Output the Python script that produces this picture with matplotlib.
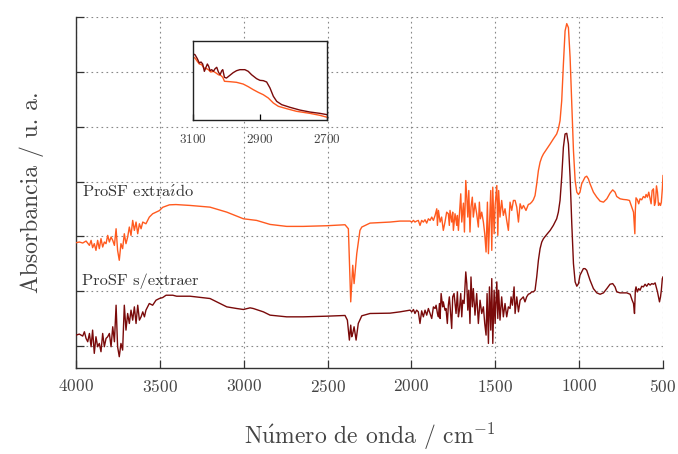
import matplotlib
matplotlib.use("Agg")
import matplotlib.pyplot as plt

# numero de onda (cm-1) y absorbancia desplazada
wn_ext = [4000, 3980, 3960, 3940, 3920, 3910, 3901, 3891, 3881, 3871, 3861, 3851, 3841, 3831,
          3821, 3811, 3801, 3791, 3781, 3771, 3761, 3752, 3742, 3732, 3722, 3712, 3702, 3692,
          3682, 3672, 3662, 3652, 3642, 3632, 3622, 3612, 3602, 3583, 3563, 3543, 3523, 3503,
          3483, 3443, 3404, 3344, 3320, 3201, 3101, 3002, 2923, 2843, 2744, 2645, 2505, 2396,
          2376, 2362, 2350, 2342, 2326, 2307, 2296, 2247, 2128, 2068, 2008, 1998, 1988, 1979,
          1969, 1959, 1949, 1939, 1929, 1919, 1909, 1899, 1889, 1879, 1869, 1859, 1849, 1845,
          1839, 1829, 1820, 1810, 1800, 1790, 1780, 1774, 1770, 1760, 1754, 1750, 1740, 1730,
          1726, 1720, 1714, 1706, 1700, 1690, 1684, 1676, 1670, 1664, 1658, 1651, 1645, 1637,
          1631, 1621, 1611, 1601, 1595, 1589, 1581, 1571, 1563, 1555, 1547, 1541, 1535, 1527,
          1521, 1515, 1507, 1501, 1491, 1485, 1480, 1472, 1462, 1452, 1442, 1432, 1422, 1412,
          1402, 1392, 1382, 1372, 1362, 1352, 1342, 1332, 1317, 1303, 1293, 1283, 1273, 1263,
          1253, 1243, 1233, 1223, 1213, 1193, 1173, 1154, 1134, 1124, 1114, 1104, 1094, 1084,
          1074, 1064, 1054, 1044, 1034, 1024, 1014, 1004, 995, 985, 965, 955, 945, 935, 915,
          895, 875, 855, 835, 816, 800, 786, 776, 756, 736, 716, 700, 686, 676, 668, 665, 661,
          653, 645, 637, 627, 617, 607, 601, 593, 585, 577, 571, 565, 557, 551, 545, 539, 533,
          527, 521, 515, 510, 504, 500]
abs_ext = [1.885, 1.897, 1.879, 1.915, 1.836, 1.927, 1.794, 1.867, 1.745, 1.927, 1.776, 1.958,
           1.806, 1.897, 1.867, 2.018, 1.897, 1.988, 1.927, 1.836, 2.139, 1.745, 1.564, 1.867,
           1.776, 2.048, 1.867, 1.988, 2.17, 2.018, 2.291, 2.109, 2.261, 2.048, 2.23, 2.139,
           2.261, 2.23, 2.351, 2.412, 2.442, 2.47, 2.53, 2.575, 2.58, 2.57, 2.564, 2.533, 2.442,
           2.321, 2.291, 2.218, 2.182, 2.182, 2.194, 2.212, 2.139, 0.806, 1.473, 1.139, 1.685,
           2.109, 2.17, 2.242, 2.261, 2.279, 2.279, 2.261, 2.291, 2.261, 2.279, 2.291, 2.2,
           2.291, 2.261, 2.303, 2.242, 2.321, 2.291, 2.352, 2.291, 2.382, 2.503, 2.2, 2.473,
           2.261, 2.352, 2.109, 2.261, 2.442, 2.412, 2.2, 2.473, 2.261, 2.442, 2.109, 2.412,
           2.2, 2.382, 2.109, 2.382, 2.776, 2.261, 2.606, 2.079, 3.018, 2.715, 2.352, 2.836,
           2.079, 2.533, 2.715, 2.352, 2.606, 2.412, 2.17, 2.624, 2.321, 2.442, 2.261, 2.048,
           1.715, 2.624, 1.685, 2.17, 2.836, 1.745, 2.897, 2.048, 2.564, 2.927, 2.018, 2.836,
           2.352, 2.655, 2.382, 2.503, 2.291, 2.109, 2.624, 2.473, 2.655, 2.655, 2.533, 2.261,
           2.594, 2.503, 2.564, 2.473, 2.582, 2.594, 2.624, 2.667, 2.745, 2.958, 3.2, 3.352,
           3.442, 3.503, 3.594, 3.685, 3.776, 3.867, 3.958, 4.109, 4.473, 5.139, 5.745, 5.879,
           5.806, 5.261, 4.412, 3.564, 3.018, 2.806, 2.764, 2.806, 2.958, 3.079, 3.097, 3.048,
           2.958, 2.806, 2.715, 2.642, 2.624, 2.685, 2.788, 2.848, 2.806, 2.727, 2.685, 2.673,
           2.667, 2.655, 2.533, 2.442, 2.048, 2.473, 2.703, 2.667, 2.594, 2.685, 2.667, 2.727,
           2.703, 2.764, 2.715, 2.806, 2.685, 2.594, 2.836, 2.867, 2.564, 2.624, 2.921, 2.806,
           2.564, 2.606, 2.564, 2.624, 2.867, 3.109]

wn_sin = [4000, 3980, 3960, 3950, 3940, 3930, 3920, 3910, 3901, 3891, 3881, 3871, 3861, 3851,
          3841, 3831, 3821, 3811, 3801, 3791, 3781, 3771, 3761, 3752, 3742, 3732, 3722, 3712,
          3702, 3692, 3682, 3672, 3662, 3652, 3642, 3632, 3622, 3612, 3602, 3592, 3583, 3573,
          3563, 3543, 3523, 3503, 3483, 3463, 3423, 3400, 3320, 3201, 3101, 3042, 3002, 2962,
          2943, 2883, 2843, 2744, 2645, 2505, 2396, 2382, 2370, 2362, 2356, 2350, 2342, 2330,
          2317, 2296, 2247, 2128, 2068, 2008, 1998, 1988, 1979, 1969, 1959, 1949, 1939, 1929,
          1919, 1909, 1899, 1889, 1879, 1869, 1859, 1853, 1845, 1839, 1833, 1829, 1823, 1814,
          1810, 1800, 1794, 1786, 1780, 1774, 1770, 1760, 1754, 1746, 1740, 1734, 1726, 1720,
          1714, 1706, 1700, 1694, 1686, 1676, 1670, 1664, 1658, 1651, 1645, 1637, 1631, 1621,
          1611, 1601, 1591, 1581, 1571, 1563, 1555, 1549, 1541, 1535, 1527, 1521, 1515, 1507,
          1501, 1491, 1485, 1480, 1472, 1462, 1452, 1442, 1432, 1422, 1412, 1406, 1398, 1388,
          1382, 1372, 1362, 1352, 1342, 1333, 1323, 1313, 1303, 1293, 1283, 1273, 1263, 1253,
          1243, 1233, 1223, 1213, 1193, 1173, 1154, 1134, 1124, 1114, 1104, 1094, 1084, 1074,
          1064, 1054, 1044, 1034, 1024, 1014, 1004, 995, 975, 965, 955, 935, 915, 895, 875,
          855, 835, 816, 800, 786, 776, 756, 716, 696, 684, 676, 670, 665, 661, 653, 645, 637,
          627, 617, 607, 597, 587, 577, 567, 557, 547, 541, 533, 527, 521, 515, 510, 504, 500]
abs_sin = [0.2, 0.218, 0.182, 0.261, 0.139, 0.079, 0.23, -0.012, 0.291, -0.133, 0.17, -0.012,
           0.048, -0.103, 0.23, -0.012, 0.139, 0.17, 0.23, -0.012, 0.352, 0.079, 0.745, -0.012,
           -0.194, 0.048, -0.073, 0.745, 0.291, 0.594, 0.412, 0.655, 0.473, 0.715, 0.412, 0.745,
           0.473, 0.533, 0.624, 0.533, 0.655, 0.715, 0.776, 0.745, 0.836, 0.867, 0.885, 0.927,
           0.927, 0.909, 0.909, 0.867, 0.715, 0.685, 0.667, 0.697, 0.685, 0.624, 0.564, 0.533,
           0.533, 0.545, 0.558, 0.473, 0.109, 0.382, 0.17, 0.23, 0.352, 0.109, 0.412, 0.552,
           0.594, 0.6, 0.624, 0.655, 0.624, 0.667, 0.594, 0.655, 0.624, 0.412, 0.642, 0.533,
           0.655, 0.564, 0.685, 0.594, 0.503, 0.715, 0.685, 0.745, 0.594, 0.533, 0.776, 0.503,
           0.958, 0.715, 0.806, 0.655, 0.685, 0.412, 0.745, 0.897, 0.745, 0.321, 0.897, 0.958,
           0.776, 0.594, 0.988, 0.533, 0.655, 0.958, 0.533, 0.836, 0.776, 1.352, 1.139, 0.655,
           1.018, 0.412, 1.26, 0.715, 1.048, 0.564, 0.958, 0.412, 0.836, 0.594, 0.715, 0.412,
           0.2, 0.958, 0.048, 1.079, 0.291, 1.23, 0.048, 1.018, 0.412, 1.17, 0.503, 1.018,
           0.473, 0.897, 0.533, 0.776, 0.533, 0.715, 0.685, 0.897, 0.745, 1.079, 0.594, 0.897,
           0.624, 0.836, 0.867, 0.897, 0.806, 0.897, 0.945, 0.958, 0.988, 0.988, 1.018, 1.261,
           1.564, 1.776, 1.897, 1.958, 2.036, 2.109, 2.2, 2.321, 2.442, 2.655, 3.079, 3.624,
           3.867, 3.879, 3.685, 3.079, 2.23, 1.503, 1.17, 1.091, 1.139, 1.291, 1.412, 1.412,
           1.382, 1.2, 1.048, 0.97, 0.945, 0.97, 1.048, 1.127, 1.139, 1.079, 0.988, 0.97, 0.97,
           0.945, 0.836, 0.776, 0.594, 1.018, 1.079, 0.988, 1.048, 1.018, 1.091, 1.079, 1.127,
           1.091, 1.139, 1.112, 1.139, 1.127, 1.152, 1.079, 0.988, 0.897, 0.806, 0.897, 1.018,
           1.23, 1.261]

# recuadro: zona 3100-2700 cm-1
ins_wn_sin = [3100, 3095, 3088, 3082, 3077, 3072, 3067, 3063, 3058, 3054, 3050, 3045, 3040,
              3035, 3030, 3025, 3020, 3015, 3012, 3007, 3001, 2991, 2981, 2971, 2961, 2946,
              2936, 2926, 2911, 2901, 2891, 2881, 2871, 2861, 2851, 2836, 2811, 2782, 2752,
              2722, 2700]
ins_sin = [0.839, 0.831, 0.78, 0.725, 0.738, 0.713, 0.62, 0.662, 0.713, 0.683, 0.628, 0.641,
           0.62, 0.653, 0.671, 0.611, 0.577, 0.628, 0.641, 0.544, 0.535, 0.569, 0.603, 0.628,
           0.641, 0.641, 0.62, 0.577, 0.527, 0.506, 0.502, 0.485, 0.409, 0.304, 0.24, 0.198,
           0.164, 0.13, 0.105, 0.088, 0.071]
ins_wn_ext = [3100, 3095, 3088, 3082, 3075, 3068, 3060, 3055, 3048, 3040, 3032, 3025, 3018,
              3012, 3007, 2991, 2971, 2951, 2936, 2921, 2906, 2891, 2876, 2861, 2846, 2821,
              2792, 2752, 2722, 2700]
ins_ext = [0.797, 0.789, 0.746, 0.713, 0.704, 0.662, 0.653, 0.641, 0.611, 0.62, 0.599, 0.577,
           0.569, 0.544, 0.494, 0.489, 0.481, 0.459, 0.426, 0.388, 0.354, 0.324, 0.282, 0.219,
           0.177, 0.147, 0.114, 0.088, 0.063, 0.038]

c_ext = "#ff5a1f"
c_sin = "#7a0a0a"

plt.rcParams["font.family"] = ["cmr10", "DejaVu Serif"]
plt.rcParams["mathtext.fontset"] = "cm"
plt.rcParams["axes.formatter.use_mathtext"] = True

fig = plt.figure(figsize=(6.78, 4.54), dpi=100)
ax = fig.add_axes([0.1121, 0.1894, 0.8658, 0.7732])
ax.plot(wn_ext, abs_ext, color=c_ext, lw=1.0, zorder=3)
ax.plot(wn_sin, abs_sin, color=c_sin, lw=1.0, zorder=3)
ax.set_xlim(4000, 500)
ax.set_ylim(-0.4, 6.0)
ax.set_xticks([4000, 3500, 3000, 2500, 2000, 1500, 1000, 500])
ax.set_yticks([0, 1, 2, 3, 4, 5, 6])
ax.set_yticklabels([])
ax.grid(True, linestyle=(0, (1.5, 3)), color="#888888", lw=0.8, zorder=0)
for s in ["top", "right"]:
    ax.spines[s].set_visible(False)
for s in ["left", "bottom"]:
    ax.spines[s].set_color("#333333")
    ax.spines[s].set_linewidth(1.0)
ax.tick_params(direction="in", length=6, width=0.9, color="#333333",
               labelsize=12.5, labelcolor="#444444", pad=7)
ax.set_xlabel(r"N$\mathrm{\acute{u}}$mero de onda / cm$^{-1}$", fontsize=17,
              color="#444444", labelpad=19)
ax.set_ylabel("Absorbancia / u. a.", fontsize=17, color="#444444", labelpad=16)

ax.text(3965, 2.8, r"ProSF extra$\mathrm{\acute{\imath}}$do", fontsize=11.8,
        color="#333333", va="center", ha="left")
ax.text(3965, 1.18, "ProSF s/extraer", fontsize=11.8, color="#333333", va="center", ha="left")

axi = fig.add_axes([0.2851, 0.735, 0.1976, 0.174])
axi.set_facecolor("white")
axi.plot(ins_wn_ext, ins_ext, color=c_ext, lw=1.0)
axi.plot(ins_wn_sin, ins_sin, color=c_sin, lw=1.0)
axi.set_xlim(3100, 2700)
axi.set_ylim(0, 1)
axi.set_xticks([3100, 2900, 2700])
axi.set_yticks([])
axi.tick_params(direction="in", length=4, width=0.9, labelsize=9.5,
                labelcolor="#444444", pad=9)
for s in axi.spines.values():
    s.set_color("#222222")
    s.set_linewidth(1.0)

fig.savefig("out.png", dpi=100)
